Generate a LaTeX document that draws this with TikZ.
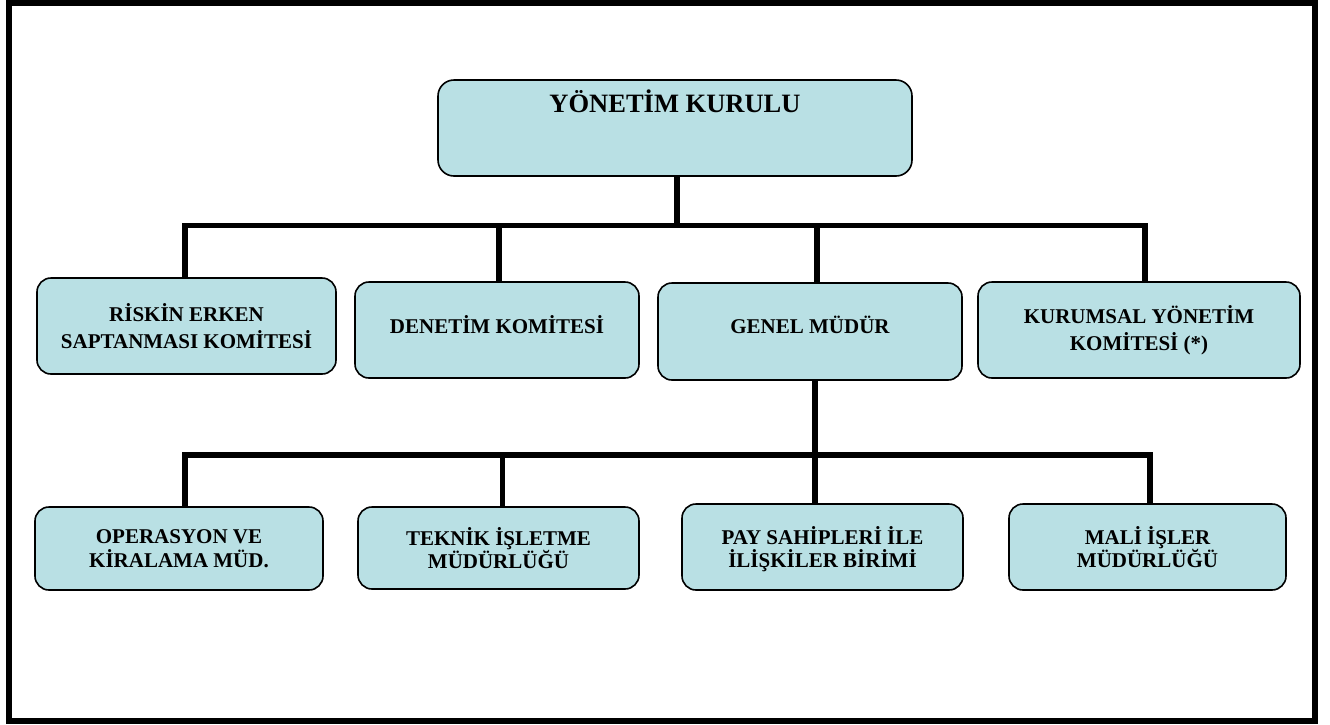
\documentclass[tikz,border=0pt]{standalone}
\usepackage{fontspec}
\setmainfont{Liberation Serif}
\definecolor{boxfill}{RGB}{185,224,228}
\begin{document}
\begin{tikzpicture}[x=1pt,y=-1pt,
  box/.style={draw=black, line width=1.6pt, fill=boxfill, rounded corners=14pt,
    align=center, inner sep=0pt},
  rowtwo/.style={font=\bfseries\fontsize{21}{27.5}\selectfont},
  rowthree/.style={font=\bfseries\fontsize{21}{23.5}\selectfont, text depth=0pt},
  conn/.style={line width=5.5pt, line join=miter}]
\useasboundingbox (0,0) rectangle (1330,724);
\draw[line width=6pt] (9,3) rectangle (1315,721);

\node[box, minimum width=474pt, minimum height=96pt, rounded corners=16pt,
  font=\bfseries\fontsize{26.5}{30}\selectfont, text depth=54pt] (yk) at (675,128) {YÖNETİM KURULU};

\node[box, rowtwo, minimum width=299pt, minimum height=96pt] (risk) at (186.5,326) {RİSKİN ERKEN\\SAPTANMASI KOMİTESİ};
\node[box, rowtwo, minimum width=284pt, minimum height=96pt, text depth=12pt] (den) at (497,330) {DENETİM KOMİTESİ};
\node[box, rowtwo, minimum width=304pt, minimum height=97pt, text depth=14pt] (gm) at (810,331.5) {GENEL MÜDÜR};
\node[box, rowtwo, minimum width=322pt, minimum height=96pt] (kur) at (1139,330) {KURUMSAL YÖNETİM\\KOMİTESİ (*)};

\node[box, rowthree, minimum width=288pt, minimum height=83pt] (ops) at (179,548.5) {OPERASYON VE\\KİRALAMA MÜD.};
\node[box, rowthree, minimum width=281pt, minimum height=82pt] (tek) at (498.5,548) {TEKNİK İŞLETME\\MÜDÜRLÜĞÜ};
\node[box, rowthree, minimum width=281pt, minimum height=86pt] (pay) at (822.5,547) {PAY SAHİPLERİ İLE\\İLİŞKİLER BİRİMİ};
\node[box, rowthree, minimum width=277pt, minimum height=86pt] (mal) at (1147.5,547) {MALİ İŞLER\\MÜDÜRLÜĞÜ};

% upper connectors
\coordinate (b1) at (677,225.5);
\draw[conn] ([xshift=2pt]yk.south) -- (b1);
\draw[conn] ([xshift=-1.5pt]risk.north) |- (b1) -| ([xshift=6pt]kur.north);
\draw[conn] ([xshift=2pt]den.north) -- ([xshift=2pt]den.north |- b1);
\draw[conn] ([xshift=7pt]gm.north) -- ([xshift=7pt]gm.north |- b1);

% lower connectors
\coordinate (b2) at (815,455);
\draw[conn] ([xshift=5pt]gm.south) -- ([xshift=5pt]gm.south |- pay.north);
\draw[conn] ([xshift=6pt]ops.north) |- (b2) -| ([xshift=2.5pt]mal.north);
\draw[conn] ([xshift=4pt]tek.north) -- ([xshift=4pt]tek.north |- b2);
\end{tikzpicture}
\end{document}
